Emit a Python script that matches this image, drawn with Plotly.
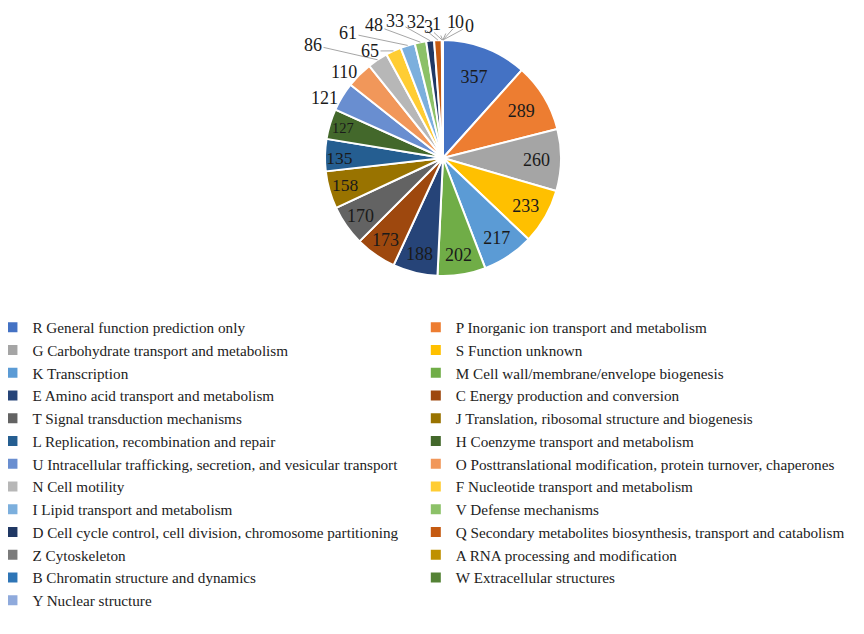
import math
import plotly.graph_objects as go

# COG functional categories and gene counts
codes = ["R", "P", "G", "S", "K", "M", "E", "C", "T", "J", "L", "H", "U",
         "O", "N", "F", "I", "V", "D", "Q", "Z", "A", "B", "W", "Y"]
descriptions = [
    "General function prediction only",
    "Inorganic ion transport and metabolism",
    "Carbohydrate transport and metabolism",
    "Function unknown",
    "Transcription",
    "Cell wall/membrane/envelope biogenesis",
    "Amino acid transport and metabolism",
    "Energy production and conversion",
    "Signal transduction mechanisms",
    "Translation, ribosomal structure and biogenesis",
    "Replication, recombination and repair",
    "Coenzyme transport and metabolism",
    "Intracellular trafficking, secretion, and vesicular transport",
    "Posttranslational modification, protein turnover, chaperones",
    "Cell motility",
    "Nucleotide transport and metabolism",
    "Lipid transport and metabolism",
    "Defense mechanisms",
    "Cell cycle control, cell division, chromosome partitioning",
    "Secondary metabolites biosynthesis, transport and catabolism",
    "Cytoskeleton",
    "RNA processing and modification",
    "Chromatin structure and dynamics",
    "Extracellular structures",
    "Nuclear structure",
]
counts = [357, 289, 260, 233, 217, 202, 188, 173, 170, 158, 135, 127, 121,
          110, 86, 65, 61, 48, 33, 32, 3, 1, 1, 0, 0]

colors = ["#4472C4", "#ED7D31", "#A5A5A5", "#FFC000", "#5B9BD5", "#70AD47",
          "#264478", "#9E480E", "#636363", "#997300", "#255E91", "#43682B",
          "#698ED0", "#F1975A", "#B7B7B7", "#FFCD33", "#7CAFDD", "#8CC168",
          "#203864", "#C55A11", "#7B7B7B", "#BF9000", "#2E75B6", "#548235",
          "#8FAADC"]

W, H = 864, 634
PLOT_H = 294           # pie area on top, legend hangs below it
N_INSIDE = 12          # slices whose number sits inside the slice
N_NEAR = 14            # next ones sit just outside, without leader line
# text centres (px) for the leader-line labels of the small slices
leader_text_px = [(305, 37), (362, 43), (340, 25), (366, 17), (387, 13),
                  (408, 14), (420, 19), (428, 16), (443, 14), (451, 14),
                  (461, 18)]

# pie geometry (px)
PIE_CX, PIE_CY, PIE_R = 435, 150, 118
dom_x = [(PIE_CX - PIE_R) / W, (PIE_CX + PIE_R) / W]
dom_y = [1 - (PIE_CY + PIE_R) / PLOT_H, 1 - (PIE_CY - PIE_R) / PLOT_H]

labels = [f"{c} {d}" for c, d in zip(codes, descriptions)]
texts = [str(v) if i < N_INSIDE else "" for i, v in enumerate(counts)]

fig = go.Figure(
    go.Pie(
        labels=labels,
        values=counts,
        text=texts,
        sort=False,
        direction="clockwise",
        rotation=0,
        textinfo="text",
        textposition="inside",
        insidetextorientation="horizontal",
        textfont=dict(family="Liberation Serif, serif", size=18, color="#1a1a1a"),
        marker=dict(colors=colors, line=dict(color="white", width=2)),
        domain=dict(x=dom_x, y=dom_y),
        hoverinfo="label+value+percent",
    )
)

# outside labels placed from each slice's mid angle
total = sum(counts)
cum = 0
annotations = []
for i, v in enumerate(counts):
    mid = (cum + v / 2) / total * 2 * math.pi
    cum += v
    if i < N_INSIDE:
        continue
    ex = PIE_CX + PIE_R * math.sin(mid)
    ey = PIE_CY - PIE_R * math.cos(mid)
    if i < N_NEAR:
        tx = PIE_CX + 1.18 * PIE_R * math.sin(mid)
        ty = PIE_CY - 1.18 * PIE_R * math.cos(mid)
        annotations.append(dict(
            x=tx / W, y=1 - ty / PLOT_H, xref="paper", yref="paper",
            text=str(v), showarrow=False,
            font=dict(family="Liberation Serif, serif", size=18, color="#1a1a1a"),
        ))
    else:
        tx, ty = leader_text_px[i - N_NEAR]
        annotations.append(dict(
            x=ex / W, y=1 - ey / PLOT_H, xref="paper", yref="paper",
            ax=tx - ex, ay=ty - ey,
            text=str(v), showarrow=True, arrowhead=0, arrowwidth=1,
            arrowcolor="#A6A6A6", standoff=0, startstandoff=0,
            font=dict(family="Liberation Serif, serif", size=18, color="#1a1a1a"),
        ))

fig.update_layout(
    width=W,
    height=H,
    margin=dict(l=0, r=0, t=0, b=H - PLOT_H, autoexpand=False),
    paper_bgcolor="white",
    font=dict(family="Liberation Serif, serif", color="#222222"),
    annotations=annotations,
    legend=dict(
        orientation="h",
        x=-0.018,
        y=-0.03,
        xanchor="left",
        yanchor="top",
        entrywidth=0.49,
        entrywidthmode="fraction",
        font=dict(size=15.2, color="#222222"),
        itemwidth=30,
        traceorder="normal",
    ),
)

fig.write_html("out.html")
